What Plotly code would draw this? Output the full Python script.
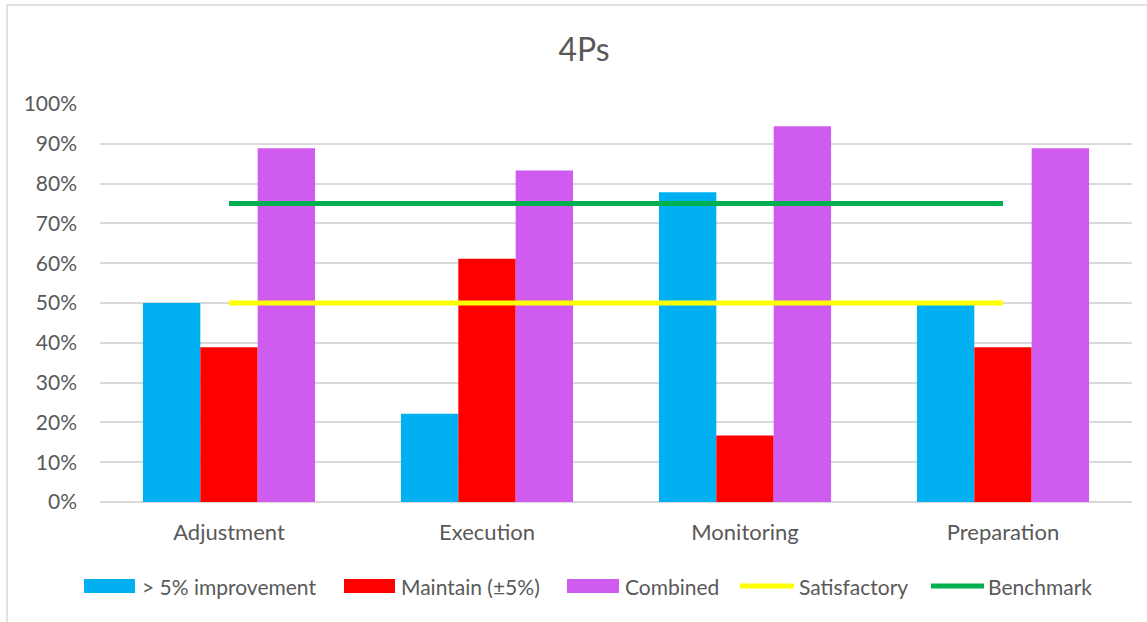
import plotly.graph_objects as go

# Data
categories = ["Adjustment", "Execution", "Monitoring", "Preparation"]
improvement = [0.500, 0.222, 0.778, 0.500]
maintain = [0.389, 0.611, 0.167, 0.389]
combined = [0.889, 0.833, 0.944, 0.889]
satisfactory = [0.50, 0.50, 0.50, 0.50]
benchmark = [0.75, 0.75, 0.75, 0.75]
series_names = ["> 5% improvement", "Maintain (±5%)", "Combined", "Satisfactory", "Benchmark"]
y_ticks = [0, 0.1, 0.2, 0.3, 0.4, 0.5, 0.6, 0.7, 0.8, 0.9, 1.0]

colors = ["#00B0F0", "#FF0000", "#CF5BEF", "#FFFF00", "#00B050"]
text_color = "#595959"
grid_color = "#D9D9D9"
font_family = "Lato, Calibri, Arial, sans-serif"

W, H = 1147, 622
L, R, T, B = 100, 15, 104, 120
pw, ph = W - L - R, H - T - B


def px_x(x):
    return (x - L) / pw


def px_y(y):
    return (H - B - y) / ph


fig = go.Figure()
for name, vals, col in zip(series_names[:3], [improvement, maintain, combined], colors[:3]):
    fig.add_trace(go.Bar(x=categories, y=vals, name=name, marker=dict(color=col, line=dict(width=0)),
                         showlegend=False))
for name, vals, col in zip(series_names[3:], [satisfactory, benchmark], colors[3:]):
    fig.add_trace(go.Scatter(x=categories, y=vals, name=name, mode="lines",
                             line=dict(color=col, width=5), showlegend=False))

shapes = []
annotations = []

# Outer chart border (left/top visible)
shapes.append(dict(type="rect", xref="paper", yref="paper",
                   x0=px_x(7), x1=px_x(1160), y0=px_y(5), y1=px_y(640),
                   line=dict(color=grid_color, width=1.5), fillcolor="rgba(0,0,0,0)", layer="below"))

# Legend row: swatch start, swatch end, label start (pixels)
legend_items = [
    (84, 135, 140, "bar"),
    (344, 395, 399, "bar"),
    (567, 619, 623, "bar"),
    (740, 794, 797, "line"),
    (931, 984, 986, "line"),
]
ly = 586
for (x0, x1, tx, kind), name, col in zip(legend_items, series_names, colors):
    if kind == "bar":
        shapes.append(dict(type="rect", xref="paper", yref="paper",
                           x0=px_x(x0), x1=px_x(x1), y0=px_y(ly + 7), y1=px_y(ly - 7),
                           fillcolor=col, line=dict(width=0)))
    else:
        shapes.append(dict(type="line", xref="paper", yref="paper",
                           x0=px_x(x0), x1=px_x(x1), y0=px_y(ly), y1=px_y(ly),
                           line=dict(color=col, width=5)))
    annotations.append(dict(text=name, xref="paper", yref="paper", x=px_x(tx), y=px_y(ly),
                            xanchor="left", yanchor="middle", showarrow=False,
                            font=dict(size=21, color=text_color, family=font_family)))

fig.update_layout(
    width=W, height=H,
    margin=dict(l=L, r=R, t=T, b=B),
    paper_bgcolor="white", plot_bgcolor="white",
    barmode="group", bargap=0.333, bargroupgap=0,
    title=dict(text="4Ps", x=584 / W, xanchor="center", y=1 - 50 / H, yanchor="middle",
               font=dict(size=32, color=text_color, family=font_family)),
    font=dict(family=font_family, color=text_color),
    shapes=shapes, annotations=annotations,
    xaxis=dict(showline=False, showgrid=False, ticks="", ticklabelstandoff=15,
               tickfont=dict(size=22, color=text_color)),
    yaxis=dict(range=[0, 1.0], tickvals=y_ticks, tickformat=".0%", showgrid=True,
               gridcolor=grid_color, gridwidth=1.5, zeroline=True, zerolinecolor=grid_color,
               zerolinewidth=1.5, showline=False, ticks="", ticklabelstandoff=22,
               tickfont=dict(size=21, color=text_color)),
)

fig.write_html("out.html")
